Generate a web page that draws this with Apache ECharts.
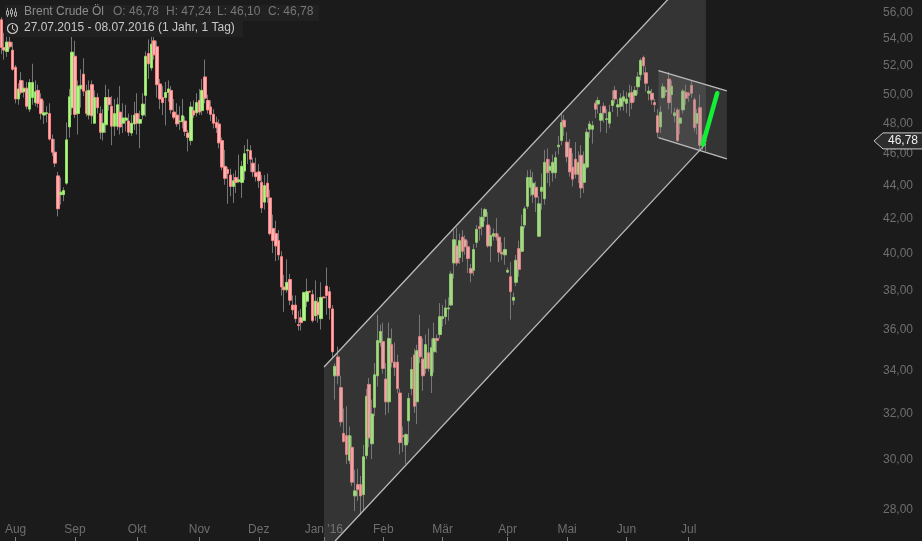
<!DOCTYPE html>
<html><head><meta charset="utf-8">
<style>html,body{margin:0;padding:0;background:#1b1b1b}#c{width:922px;height:541px}</style>
<script src="https://cdn.jsdelivr.net/npm/echarts@6/dist/echarts.min.js"></script>
</head><body><div id="c"></div>
<script>
const opens=[55.4,53.3,53.0,53.7,53.1,51.85,49.6,50.9,50.1,50.35,
48.9,49.7,49.35,50.2,49.6,48.5,48.6,48.6,46.9,46.05,
44.55,43.4,43.4,44.1,47.7,49.0,52.65,48.6,50.3,51.35,
50.15,48.5,50.6,47.95,49.7,48.6,47.35,47.85,49.7,49.1,
47.75,47.75,48.7,47.95,48.15,48.1,47.3,47.9,48.6,47.95,
48.5,49.85,52.85,51.8,53.8,53.35,50.65,49.7,49.7,50.05,
50.2,48.7,48.5,48.05,48.05,48.1,47.3,46.8,48.8,48.65,
49.5,48.8,51.15,49.5,49.05,48.55,48.0,47.9,46.8,45.15,
44.95,44.6,43.9,44.45,44.2,44.15,44.85,46.15,46.15,45.35,
44.75,44.8,44.15,42.95,44.1,43.2,41.4,41.1,40.7,39.8,
38.15,38.0,38.55,37.2,37.2,36.2,36.55,36.4,37.4,37.92,
37.75,36.65,37.35,36.5,37.62,38.2,37.9,37.0,33.7,34.6,
33.15,31.1,31.0,29.95,30.5,28.5,28.95,28.95,28.55,30.15,
33.3,30.65,32.25,33.7,35.3,35.35,33.55,32.5,35.2,34.35,
34.35,32.9,31.0,30.6,31.65,33.1,34.7,32.5,35.6,34.5,
34.05,34.8,33.7,34.85,35.5,35.7,36.5,36.6,37.0,37.2,
39.45,40.4,39.75,40.9,40.75,40.35,39.15,39.05,40.6,41.5,
41.5,42.1,41.6,40.4,40.95,41.1,40.9,40.05,39.9,38.95,
38.7,37.45,38.4,40.25,40.1,41.6,42.7,43.85,43.4,43.85,
40.95,43.6,43.15,45.6,44.9,44.75,44.75,46.4,46.8,48.15,
46.7,46.3,45.1,45.6,44.65,45.85,44.15,45.1,47.55,47.55,
49.3,49.25,48.15,49.1,48.2,47.95,49.15,50.2,49.05,49.1,
49.45,49.3,49.75,50.05,49.85,50.45,51.3,52.55,51.45,50.0,
50.0,49.35,48.45,47.7,49.7,50.1,51.0,49.9,48.45,48.85,
47.95,48.85,50.05,50.0,50.55,49.55,47.95,49.0,46.5,46.78];
const closes=[53.3,53.1,53.7,53.35,51.7,49.6,50.3,50.05,50.35,49.1,
50.75,50.75,50.1,49.3,48.6,48.65,48.65,46.9,46.05,45.35,
42.55,43.55,43.65,46.85,49.75,52.95,48.55,50.5,50.55,50.15,
48.6,50.2,48.45,49.7,49.0,47.35,47.95,49.7,49.2,47.75,
48.6,49.2,47.7,48.3,48.3,47.35,47.95,48.5,47.95,48.2,
49.25,52.65,52.1,53.55,52.75,50.6,49.6,49.35,50.05,50.3,
48.85,48.35,47.9,48.1,48.45,47.4,47.0,49.05,48.5,49.35,
48.7,50.2,49.65,48.85,48.55,47.95,47.65,46.65,45.1,44.4,
44.7,43.9,44.25,44.15,44.3,45.15,45.95,46.2,45.6,44.8,
44.5,44.25,42.6,43.95,43.25,41.1,40.7,40.4,39.9,38.15,
38.0,38.4,37.45,36.95,36.5,36.15,36.3,37.85,37.9,37.88,
36.4,37.4,36.7,37.6,37.58,37.7,37.05,34.85,34.15,33.7,
31.6,30.75,30.2,31.0,29.05,28.7,28.75,28.5,30.1,32.75,
30.9,31.95,33.75,35.4,35.85,34.05,32.5,35.5,34.35,34.1,
33.1,30.7,30.95,31.05,32.65,34.0,32.3,34.9,34.6,33.7,
35.2,34.05,35.05,35.5,35.4,36.6,36.6,37.05,37.05,38.85,
40.75,39.45,40.7,40.1,40.35,39.7,38.9,40.2,41.35,41.4,
42.05,42.5,40.4,41.0,41.1,40.9,40.05,39.95,40.2,39.05,
37.9,37.6,39.6,39.1,41.5,42.55,44.45,44.45,44.1,43.25,
42.85,43.85,45.4,44.75,45.15,45.4,45.7,46.5,48.0,47.7,
45.75,44.8,44.35,44.65,45.4,43.8,45.3,47.35,47.9,47.8,
48.9,49.5,48.6,48.65,48.25,48.7,49.5,49.6,49.2,49.65,
49.75,49.6,50.0,49.35,50.2,51.15,52.35,51.95,50.7,50.15,
49.55,49.2,47.35,48.7,50.45,50.2,49.35,50.5,48.65,46.8,
48.3,50.15,49.65,49.85,50.0,47.65,48.6,46.5,46.9,46.78];
const lows=[52.8,52.4,52.6,53.2,51.6,49.3,49.2,49.9,49.7,48.9,
48.7,49.2,49.1,49.0,48.2,47.9,48.0,46.8,45.8,45.1,
42.1,42.8,43.0,44.0,47.0,48.5,48.3,47.2,49.0,49.8,
48.4,48.2,47.9,47.9,48.6,46.9,46.8,47.3,48.8,46.5,
47.1,47.5,47.2,47.3,47.4,47.1,47.1,47.5,47.2,46.3,
48.2,48.4,51.0,51.6,52.4,49.7,48.9,48.5,47.8,49.4,
48.6,48.2,47.7,47.5,47.6,47.1,46.1,46.5,48.3,48.4,
48.5,48.5,49.3,48.6,48.1,47.6,47.3,46.3,44.9,44.0,
42.85,43.3,42.9,43.5,44.1,43.2,44.3,45.3,44.8,44.5,
44.2,43.8,42.3,42.5,42.9,41.0,40.0,39.55,39.6,37.7,
36.85,37.85,37.2,36.7,36.3,35.9,35.9,36.4,37.1,37.85,
36.3,36.4,36.3,35.95,37.55,36.7,36.45,34.6,32.6,33.3,
31.4,30.7,29.8,29.8,28.9,27.9,28.3,27.75,27.9,30.0,
30.5,30.0,31.85,33.2,35.1,33.8,31.9,32.0,34.1,33.7,
32.9,30.2,30.3,29.8,30.7,32.8,32.0,31.5,34.3,33.0,
33.8,33.9,32.9,33.85,34.8,35.5,36.1,36.2,36.4,37.15,
38.6,39.3,39.4,39.5,39.9,38.9,38.4,38.75,40.3,40.7,
41.0,41.8,40.3,39.5,40.7,40.7,39.5,39.6,39.35,38.9,
36.45,37.2,38.2,38.7,40.05,41.4,42.55,43.3,42.9,42.35,
40.9,42.5,42.8,44.1,43.9,44.2,44.4,45.9,46.5,47.1,
45.4,44.5,43.9,44.4,44.1,43.2,43.5,45.0,47.0,46.6,
48.3,48.6,47.35,48.0,47.3,47.6,48.7,49.3,48.4,48.8,
48.8,48.65,48.4,48.9,49.4,49.9,50.9,51.3,50.1,49.5,
49.2,48.7,47.0,47.3,49.6,49.8,48.9,48.6,48.0,46.7,
47.2,48.6,49.2,49.4,49.7,47.4,47.2,46.1,46.2,46.1];
const highs=[55.6,54.4,54.3,54.4,53.7,52.0,50.7,51.5,50.9,50.8,
51.0,52.1,50.9,50.6,50.0,49.5,49.1,49.3,47.2,46.9,
44.8,44.45,43.85,48.0,50.3,54.4,53.8,50.9,51.7,52.5,
50.6,50.9,50.9,50.2,50.0,49.1,48.9,50.6,50.3,49.8,
49.6,49.7,50.5,49.3,49.2,48.6,48.5,49.4,50.0,48.8,
50.0,53.0,53.9,54.3,54.9,53.8,51.0,50.5,50.8,50.9,
50.5,49.6,49.3,49.1,49.6,48.4,47.5,49.4,49.5,50.0,
50.3,51.0,52.4,49.9,49.5,48.9,48.4,48.2,47.0,46.2,
45.1,45.0,44.7,44.9,45.9,45.5,46.5,46.9,46.5,45.7,
45.7,45.3,44.6,44.6,44.7,43.7,42.2,41.85,41.3,40.1,
38.8,39.65,38.85,37.7,37.7,36.9,37.0,37.9,38.6,37.95,
38.0,38.5,37.6,38.4,37.65,39.2,38.15,37.2,34.3,35.1,
33.7,32.2,32.3,31.4,31.0,29.55,29.6,29.3,30.6,33.1,
33.6,32.6,34.3,36.7,36.2,36.3,34.3,36.3,36.0,35.3,
34.7,33.1,31.4,31.1,32.9,34.6,35.0,35.2,36.7,35.5,
35.7,36.0,35.5,36.3,35.7,37.3,37.2,37.5,37.6,39.0,
41.3,41.45,41.1,41.3,41.0,40.7,39.4,40.5,41.6,42.1,
42.6,42.6,42.35,41.5,41.4,42.0,41.1,40.6,40.9,39.2,
39.5,37.85,39.9,40.7,42.2,42.7,44.9,44.95,44.8,44.2,
43.3,44.7,46.2,46.3,45.6,45.9,46.1,47.1,48.6,48.5,
47.35,46.9,46.0,46.7,46.1,46.5,46.1,47.6,48.1,48.1,
49.5,49.75,49.1,49.35,48.9,49.2,50.2,50.5,49.6,50.0,
50.2,50.1,50.6,50.5,50.5,51.5,52.5,52.7,51.9,50.5,
50.3,49.6,48.9,49.1,50.7,50.4,51.5,50.9,49.0,49.0,
48.9,50.3,50.6,50.1,50.9,49.7,48.9,49.9,47.2,47.24];

const priceTicks=[28,30,32,34,36,38,40,42,44,46,48,50,52,54,56];
const monthLabels=['Aug','Sep','Okt','Nov','Dez',"Jan '16",'Feb','Mär','Apr','Mai','Jun','Jul'];
const monthIndex=[5,26,48,70,91,114,135,156,179,200,221,243];
const yMin=26.76, yMax=56.95, slotCount=326;
const channelWide=[[114.57,34.12],[236.4,57.05],[249.6,57.05],[249.6,46.6],[118.5,26.76],[114.57,26.76]];
const channelNarrow=[[232.8,51.6],[257,50.16],[257,45.62],[232.8,46.99]];
const forecast=[[248.5,46.55],[253.6,50.0]];
const lastPrice=46.78;

const categories=[];
{const d=new Date(Date.UTC(2015,6,27));
 while(categories.length<slotCount){const w=d.getUTCDay();
  if(w>0&&w<6)categories.push(d.toISOString().slice(0,10));
  d.setUTCDate(d.getUTCDate()+1);}}

const wickData=opens.map((o,i)=>[o,closes[i],lows[i],highs[i]]);
const bodyData=opens.map((o,i)=>[o,closes[i],Math.min(o,closes[i]),Math.max(o,closes[i])]);

const GREEN='#8fe060',RED='#ff8080',FILL_G='#b8f090',FILL_R='#ffb4b4',GREY='#757575',EDGE='#bcbcbc',BAND='rgba(128,128,128,0.25)';

function polygonSeries(points,edges){
  return {type:'custom',coordinateSystem:'cartesian2d',xAxisIndex:1,z:5,silent:true,clip:true,
    data:[[0,yMin]],encode:{x:0,y:1},
    renderItem(p,api){
      const pts=points.map(q=>api.coord(q));
      const kids=[{type:'polygon',shape:{points:pts},style:{fill:BAND,stroke:null}}];
      edges.forEach(e=>kids.push({type:'line',shape:{x1:pts[e[0]][0],y1:pts[e[0]][1],x2:pts[e[1]][0],y2:pts[e[1]][1]},
        style:{stroke:EDGE,lineWidth:1.3}}));
      return {type:'group',children:kids};
    }};
}

const chart=echarts.init(document.getElementById('c'),null,{renderer:'canvas',width:922,height:541});
const hdr='Liberation Sans';
function t(x,y,s,c){return {type:'text',z:101,left:x,top:y,style:{text:s,fill:c,font:'12px "'+hdr+'"'}};}
chart.setOption({
  animation:false,backgroundColor:'#1b1b1b',
  grid:{left:0,top:0,width:922,height:541,containLabel:false},
  tooltip:{show:false},
  xAxis:[{type:'category',data:categories,boundaryGap:true,
    axisLine:{show:false},splitLine:{show:false},
    axisTick:{show:true,inside:true,length:4,alignWithLabel:true,lineStyle:{color:'#808080'},
      interval:i=>monthIndex.includes(i)},
    axisLabel:{show:true,inside:true,margin:5,color:'#6e6e6e',fontFamily:hdr,fontSize:12,hideOverlap:false,
      interval:i=>monthIndex.includes(i),
      formatter:(v,i)=>{const k=monthIndex.indexOf(i);return k<0?'':monthLabels[k];}}},
    {type:'value',min:0,max:slotCount,show:false}],
  yAxis:{type:'log',logBase:2,position:'right',min:yMin,max:yMax,
    axisLine:{show:false},splitLine:{show:false},minorTick:{show:false},
    axisTick:{show:true,inside:true,length:6,lineStyle:{color:'#777777'},customValues:priceTicks},
    axisLabel:{show:true,inside:true,margin:9,customValues:priceTicks,
      rich:{p:{color:'#6e6e6e',fontFamily:hdr,fontSize:12,padding:[2,0,0,0]}},
      formatter:v=>'{p|'+Number(v).toFixed(2).replace('.',',')+'}'}},
  series:[
    {name:'Docht',type:'candlestick',barWidth:1,z:2,silent:true,data:wickData,
      itemStyle:{color:GREY,color0:GREY,borderColor:GREY,borderColor0:GREY,borderWidth:1}},
    {name:'Brent Crude Öl',type:'candlestick',barWidth:3,z:3,silent:true,data:bodyData,
      itemStyle:{color:FILL_G,color0:FILL_R,borderColor:GREEN,borderColor0:RED,borderWidth:1}},
    polygonSeries(channelWide,[[0,1],[3,4]]),
    polygonSeries(channelNarrow,[[0,1],[3,2]]),
    {name:'Pfeil',type:'line',xAxisIndex:1,z:7,silent:true,symbol:'none',data:forecast,
      lineStyle:{color:'#12ef35',width:4.5,cap:'round'}},
    {name:'Kurs',type:'custom',coordinateSystem:'cartesian2d',xAxisIndex:1,z:9,silent:true,clip:false,
      data:[[249,lastPrice]],encode:{x:0,y:1},
      renderItem(p,api){
        const y=api.coord([0,api.value(1)])[1],w=api.getWidth();
        return {type:'group',children:[
          {type:'polygon',shape:{points:[[w-48,y],[w-39,y-8],[w+2,y-8],[w+2,y+8],[w-39,y+8]]},
            style:{fill:'#2c2c2c',stroke:'#c8c8c8',lineWidth:1}},
          {type:'text',style:{x:w-4,y:y,text:lastPrice.toFixed(2).replace('.',','),fill:'#f0f0f0',
            align:'right',verticalAlign:'middle',font:'12px "'+hdr+'"'}}]};
      }}
  ],
  graphic:[
    {type:'rect',z:100,shape:{x:5,y:5,width:314,height:16},style:{fill:'#212121'}},
    {type:'rect',z:100,shape:{x:5,y:21,width:238,height:16},style:{fill:'#212121'}},
    {type:'group',z:101,children:[
      {type:'line',z:101,shape:{x1:7.5,y1:8,x2:7.5,y2:17},style:{stroke:'#aaa'}},
      {type:'rect',z:101,shape:{x:6.5,y:11,width:2,height:4},style:{fill:'#1b1b1b',stroke:'#aaa'}},
      {type:'line',z:101,shape:{x1:11.5,y1:8,x2:11.5,y2:17},style:{stroke:'#aaa'}},
      {type:'rect',z:101,shape:{x:10.5,y:10,width:2,height:4},style:{fill:'#1b1b1b',stroke:'#aaa'}},
      {type:'line',z:101,shape:{x1:15.5,y1:8,x2:15.5,y2:17},style:{stroke:'#aaa'}},
      {type:'rect',z:101,shape:{x:14.5,y:12,width:2,height:4},style:{fill:'#1b1b1b',stroke:'#aaa'}},
      {type:'circle',z:101,shape:{cx:12.5,cy:28.5,r:5},style:{fill:'none',stroke:'#ccc',lineWidth:1.2}},
      {type:'polyline',z:101,shape:{points:[[12.5,25],[12.5,29],[15,30.5]]},style:{fill:'none',stroke:'#ccc'}}
    ]},
    t(24,6,'Brent Crude Öl','#8c8c8c'),
    t(113,6,'O: 46,78','#777'),
    t(166,6,'H: 47,24','#777'),
    t(217,6,'L: 46,10','#777'),
    t(268,6,'C: 46,78','#777'),
    t(24,22,'27.07.2015 - 08.07.2016 (1 Jahr, 1 Tag)','#c8c8c8')
  ]
});
</script></body></html>
